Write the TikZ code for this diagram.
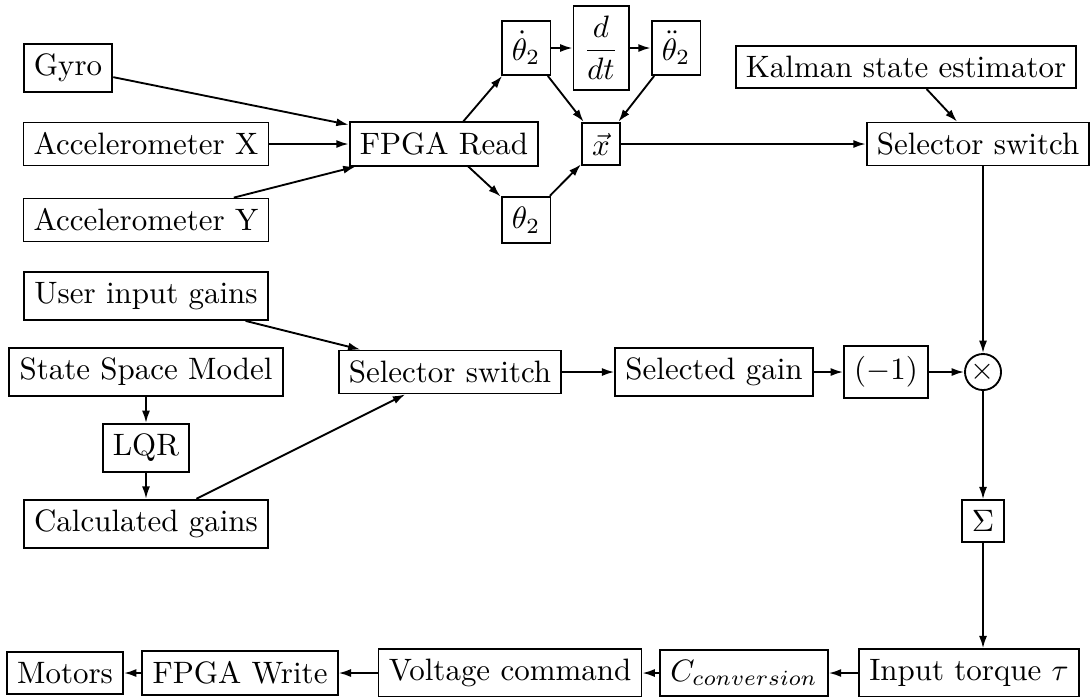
\documentclass[tikz,border=0pt]{standalone}
\usepackage{amsmath,amssymb}
\usepackage{tikz}
\usetikzlibrary{arrows.meta}

\begin{document}
\begin{tikzpicture}[x=0.323pt, y=-0.323pt,
  blk/.style={draw, line width=0.6pt, inner sep=3.3pt},
  sig/.style={line width=0.6pt, -{Latex[length=4pt,width=2.6pt]}}]
  \useasboundingbox (0,0) rectangle (1091,696);

  % Sensors and left column
  \node[blk] (gyro) at (68, 68) {Gyro};
  \foreach \n/\r/\t in {accx/1/Accelerometer X, accy/2/Accelerometer Y, user/3/User input gains, ssm/4/State Space Model, lqr/5/LQR, calc/6/Calculated gains} {
    \node[blk] (\n) at (146, {68 + 76*\r}) {\t};
  }

  % Read-out and state vector
  \node[blk] (fpgar) at (444, 144) {FPGA Read};
  \node[blk] (thd) at (526, 48) {$\dot{\theta}_2$};
  \node[blk] (ddt) at (601, 48) {$\dfrac{d}{dt}$};
  \node[blk] (thdd) at (676, 48) {$\ddot{\theta}_2$};
  \node[blk] (th) at (526, 220) {$\theta_2$};
  \node[blk] (xvec) at (601, 144) {$\vec{x}$};
  \node[blk] (kalman) at (906, 67) {Kalman state estimator};
  \node[blk] (selx) at (978, 144) {Selector switch};

  % Gain path
  \node[blk] (selk) at (450, 372) {Selector switch};
  \node[blk] (gain) at (714, 372) {Selected gain};
  \node[blk] (neg) at (886, 372) {$(-1)$};
  \node[draw, circle, line width=0.6pt, inner sep=0.5pt, minimum size=11pt] (mult) at (983, 372) {$\times$};
  \node[blk] (sum) at (983, 521) {$\Sigma$};

  % Output chain
  \node[blk] (torque) at (969, 673) {Input torque $\tau$};
  \node[blk] (conv) at (744, 673) {$C_{conversion}$};
  \node[blk] (volt) at (510, 673) {Voltage command};
  \node[blk] (fpgaw) at (240, 673) {FPGA Write};
  \node[blk] (motors) at (65, 673) {Motors};

  % Connections
  \draw[sig] (gyro) -- (fpgar);
  \draw[sig] (accx) -- (fpgar);
  \draw[sig] (accy) -- (fpgar);
  \draw[sig] (fpgar) -- (thd);
  \draw[sig] (fpgar) -- (th);
  \draw[sig] (thd) -- (ddt);
  \draw[sig] (ddt) -- (thdd);
  \draw[sig] (thd) -- (xvec);
  \draw[sig] (thdd) -- (xvec);
  \draw[sig] (th) -- (xvec);
  \draw[sig] (xvec) -- (selx);
  \draw[sig] (kalman) -- (selx);
  \draw[sig] (selx.south -| mult) -- (mult);
  \draw[sig] (user) -- (selk);
  \draw[sig] (ssm) -- (lqr);
  \draw[sig] (lqr) -- (calc);
  \draw[sig] (calc) -- (selk);
  \draw[sig] (selk) -- (gain);
  \draw[sig] (gain) -- (neg);
  \draw[sig] (neg) -- (mult);
  \draw[sig] (mult) -- (sum);
  \draw[sig] (sum) -- (sum |- torque.north);
  \draw[sig] (torque) -- (conv);
  \draw[sig] (conv) -- (volt);
  \draw[sig] (volt) -- (fpgaw);
  \draw[sig] (fpgaw) -- (motors);
\end{tikzpicture}
\end{document}
